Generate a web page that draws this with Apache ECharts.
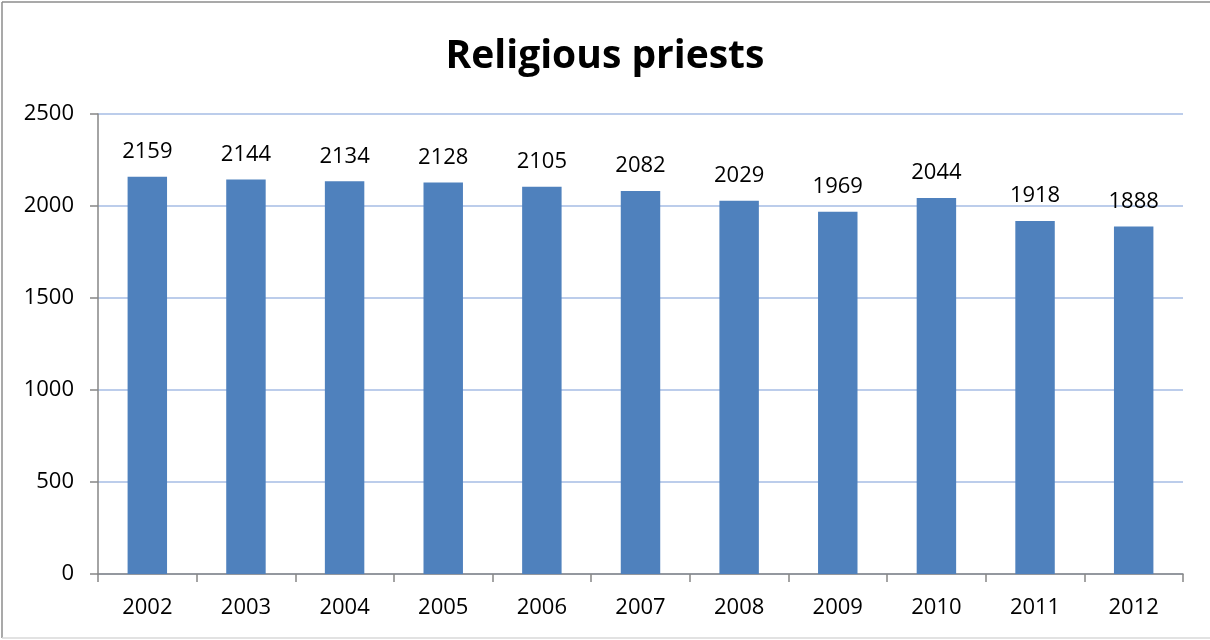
<!DOCTYPE html>
<html><head><meta charset="utf-8">
<script src="https://cdn.jsdelivr.net/npm/echarts@6/dist/echarts.min.js"></script>
<style>html,body{margin:0;padding:0;background:#fff}#c{width:1210px;height:640px}</style>
</head><body><div id="c"></div>
<script>
const categories = ['2002','2003','2004','2005','2006','2007','2008','2009','2010','2011','2012'];
const values = [2159,2144,2134,2128,2105,2082,2029,1969,2044,1918,1888];
const chart = echarts.init(document.getElementById('c'));
const font = 'Open Sans';
chart.setOption({
  animation:false,
  backgroundColor:'#fff',
  graphic:[
    {type:'line',shape:{x1:2,y1:2,x2:1210,y2:2},style:{stroke:'#8c8c8c',lineWidth:1.5},silent:true},
    {type:'line',shape:{x1:2,y1:2,x2:2,y2:638},style:{stroke:'#8c8c8c',lineWidth:1.5},silent:true},
    {type:'line',shape:{x1:2,y1:638,x2:1210,y2:638},style:{stroke:'#d9d9d9',lineWidth:1.5},silent:true}
  ],
  title:{text:'Religious priests',left:'center',top:32,textStyle:{fontFamily:font,fontSize:39,fontWeight:'bold',color:'#000'}},
  grid:{left:98,right:27,top:114,bottom:66},
  xAxis:{type:'category',data:categories,
    axisLine:{lineStyle:{color:'#868686',width:1.5}},
    axisTick:{show:true,length:8,lineStyle:{color:'#868686',width:1.5}},
    axisLabel:{fontFamily:font,fontSize:22,color:'#000',margin:23}},
  yAxis:{type:'value',min:0,max:2500,interval:500,
    axisLine:{show:true,lineStyle:{color:'#868686',width:1.5}},
    axisTick:{show:true,length:8,lineStyle:{color:'#868686',width:1.5}},
    axisLabel:{fontFamily:font,fontSize:22,color:'#000',margin:24,formatter:v=>String(v)},
    splitLine:{lineStyle:{color:'#a6bde5',width:1.5}}},
  series:[{type:'bar',data:values,barWidth:'40%',itemStyle:{color:'#4f81bd'},
    label:{show:true,position:'top',distance:14,fontFamily:font,fontSize:22,color:'#000'}}]
});
</script></body></html>
